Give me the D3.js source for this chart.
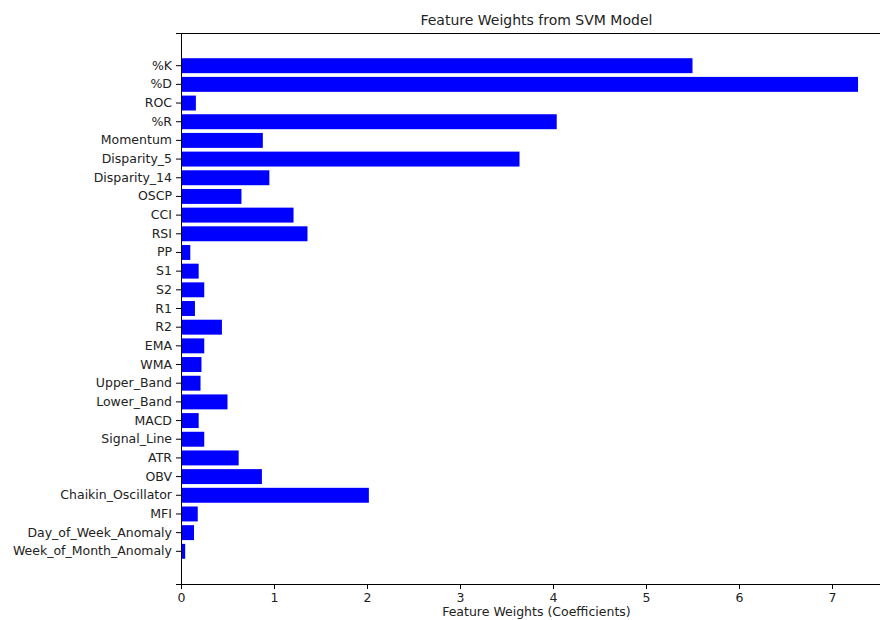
<!DOCTYPE html>
<html>
<head>
<meta charset="utf-8">
<script src="https://cdn.jsdelivr.net/npm/d3@7/dist/d3.min.js"></script>
<style>
  html, body { margin: 0; padding: 0; background: #fff; overflow: hidden; }
  svg { display: block; font-family: "DejaVu Sans", sans-serif; }
</style>
</head>
<body>
<svg id="chart" width="880" height="620"></svg>
<script>
// Feature names, top to bottom
const features = [
  "%K", "%D", "ROC", "%R", "Momentum", "Disparity_5", "Disparity_14", "OSCP",
  "CCI", "RSI", "PP", "S1", "S2", "R1", "R2", "EMA", "WMA", "Upper_Band",
  "Lower_Band", "MACD", "Signal_Line", "ATR", "OBV", "Chaikin_Oscillator",
  "MFI", "Day_of_Week_Anomaly", "Week_of_Month_Anomaly"
];

// Absolute SVM coefficient per feature
const weights = [
  5.50, 7.28, 0.16, 4.04, 0.88, 3.64, 0.95, 0.65,
  1.21, 1.36, 0.10, 0.19, 0.25, 0.15, 0.44, 0.25, 0.22, 0.21,
  0.50, 0.19, 0.25, 0.62, 0.87, 2.02,
  0.18, 0.14, 0.045
];

const xTicks = [0, 1, 2, 3, 4, 5, 6, 7];

const svg = d3.select("#chart");
const plotLeft = 181, plotTop = 33, plotBottom = 584;
const xMax = d3.max(weights) * 1.05;
const plotRight = plotLeft + xMax * 93;

const x = d3.scaleLinear().domain([0, xMax]).range([plotLeft, plotRight]);
const y = d3.scaleBand().domain(features).range([plotTop, plotBottom])
  .paddingInner(0.2).paddingOuter(1.35);

// Bars
svg.append("g")
  .selectAll("rect")
  .data(features)
  .join("rect")
  .attr("x", x(0))
  .attr("y", d => y(d))
  .attr("width", (d, i) => x(weights[i]) - x(0))
  .attr("height", y.bandwidth())
  .attr("fill", "#0000ff");

// Top spine
svg.append("line")
  .attr("x1", plotLeft).attr("x2", plotRight)
  .attr("y1", plotTop + 0.5).attr("y2", plotTop + 0.5)
  .attr("stroke", "#000").attr("stroke-width", 1);

// X axis
const xAxis = svg.append("g")
  .attr("transform", `translate(0,${plotBottom})`)
  .call(d3.axisBottom(x).tickValues(xTicks).tickFormat(d3.format("d")).tickSizeOuter(0).tickSize(5).tickPadding(4));
xAxis.select(".domain").attr("stroke", "#000");
xAxis.selectAll("text").attr("font-size", "12.5px").attr("fill", "#222").attr("font-family", "DejaVu Sans");

// Y axis
const yAxis = svg.append("g")
  .attr("transform", `translate(${plotLeft},0)`)
  .call(d3.axisLeft(y).tickSizeOuter(0).tickSize(5).tickPadding(4));
yAxis.select(".domain").attr("stroke", "#000");
yAxis.selectAll("text").attr("font-size", "12.5px").attr("fill", "#222").attr("font-family", "DejaVu Sans");

// Title and axis label
svg.append("text")
  .attr("x", (plotLeft + plotRight) / 2)
  .attr("y", 25)
  .attr("text-anchor", "middle")
  .attr("font-size", "14px")
  .attr("fill", "#222")
  .text("Feature Weights from SVM Model");

svg.append("text")
  .attr("x", (plotLeft + plotRight) / 2)
  .attr("y", 616)
  .attr("text-anchor", "middle")
  .attr("font-size", "12.5px")
  .attr("fill", "#222")
  .text("Feature Weights (Coefficients)");
</script>
</body>
</html>
